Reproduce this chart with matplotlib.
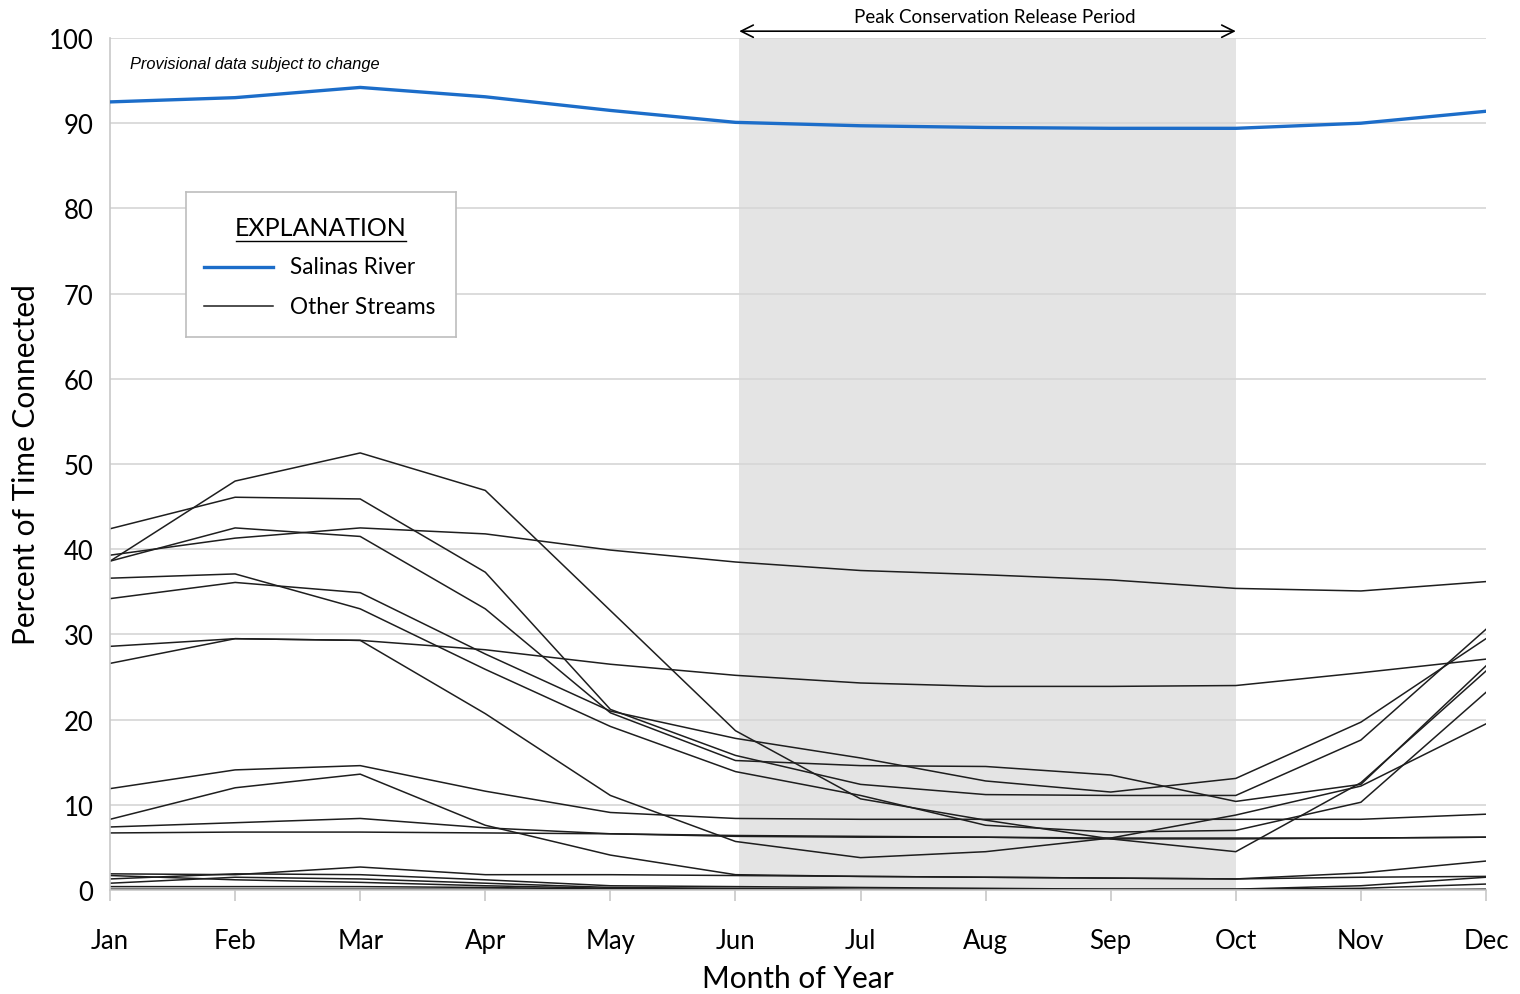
import matplotlib

matplotlib.use('Agg')
import matplotlib.pyplot as plt

MONTHS = ['Jan', 'Feb', 'Mar', 'Apr', 'May', 'Jun',
          'Jul', 'Aug', 'Sep', 'Oct', 'Nov', 'Dec']

# percent of time connected
SALINAS = [92.5, 93.0, 94.2, 93.1, 91.5, 90.1, 89.7, 89.5, 89.4, 89.4, 90.0, 91.4]

OTHER_STREAMS = [
    [38.6, 48.0, 51.3, 46.9, 32.8, 18.7, 10.7, 8.2, 6.0, 4.5, 12.6, 25.7],
    [42.4, 46.1, 45.9, 37.3, 21.2, 15.8, 12.4, 11.2, 11.1, 11.1, 17.6, 30.6],
    [38.6, 42.5, 41.5, 33.0, 20.8, 15.2, 14.6, 14.5, 13.5, 10.4, 12.4, 26.3],
    [39.3, 41.3, 42.5, 41.8, 39.9, 38.5, 37.5, 37.0, 36.4, 35.4, 35.1, 36.2],
    [36.6, 37.1, 33.0, 25.9, 19.2, 13.9, 11.1, 7.6, 6.8, 7.0, 10.3, 23.2],
    [34.2, 36.1, 34.9, 27.7, 21.0, 17.8, 15.5, 12.8, 11.5, 13.1, 19.7, 29.5],
    [28.6, 29.5, 29.3, 28.2, 26.5, 25.2, 24.3, 23.9, 23.9, 24.0, 25.5, 27.1],
    [26.6, 29.5, 29.3, 20.7, 11.1, 5.7, 3.8, 4.5, 6.1, 8.8, 12.2, 19.5],
    [11.9, 14.1, 14.6, 11.6, 9.1, 8.4, 8.3, 8.3, 8.3, 8.3, 8.3, 8.9],
    [8.3, 12.0, 13.6, 7.6, 4.1, 1.8, 1.6, 1.5, 1.4, 1.3, 2.0, 3.4],
    [7.4, 7.9, 8.4, 7.3, 6.6, 6.4, 6.3, 6.2, 6.1, 6.1, 6.1, 6.2],
    [6.7, 6.8, 6.8, 6.7, 6.6, 6.3, 6.2, 6.2, 6.0, 6.0, 6.1, 6.2],
    [1.9, 1.8, 2.7, 1.8, 1.8, 1.7, 1.6, 1.5, 1.4, 1.3, 1.5, 1.6],
    [1.3, 1.9, 1.8, 1.2, 0.5, 0.4, 0.3, 0.2, 0.1, 0.1, 0.5, 1.5],
    [0.8, 1.5, 1.3, 0.8, 0.3, 0.2, 0.1, 0.1, 0.1, 0.1, 0.2, 0.7],
    [1.7, 1.2, 0.9, 0.5, 0.2, 0.1, 0.0, 0.0, 0.0, 0.0, 0.0, 0.1],
    [0.4, 0.4, 0.4, 0.3, 0.1, 0.0, 0.0, 0.0, 0.0, 0.0, 0.0, 0.0],
    [0.1, 0.1, 0.1, 0.1, 0.1, 0.0, 0.0, 0.0, 0.0, 0.0, 0.0, 0.0],
]

PEAK_START, PEAK_END = 'Jun', 'Oct'
BLUE = '#1c6dc9'
FONT = 'Lato'

fig = plt.figure(figsize=(15.2, 9.95), dpi=100)
ax = fig.add_axes([0.0724, 0.1045, 0.9052, 0.8563])

x = list(range(len(MONTHS)))
x0, x1 = MONTHS.index(PEAK_START) + 0.03, MONTHS.index(PEAK_END)
ax.axvspan(x0, x1, color='#e4e4e4', lw=0, zorder=0.2)

for vals in OTHER_STREAMS:
    ax.plot(x, vals, color='#1e1e1e', lw=1.1, zorder=2)
ax.plot(x, SALINAS, color=BLUE, lw=2.4, zorder=3)

ax.set_xlim(0, len(MONTHS) - 1)
ax.set_ylim(0, 100)
ax.set_yticks(range(0, 101, 10))
ax.set_xticks(x)
ax.set_xticklabels(MONTHS)
ax.grid(axis='y', color='#d6d6d6', lw=1.2)
ax.set_axisbelow(True)
for s in ['top', 'right']:
    ax.spines[s].set_visible(False)
for s in ['left', 'bottom']:
    ax.spines[s].set_color('#c8c8c8')
    ax.spines[s].set_linewidth(1.2)
ax.tick_params(axis='y', length=0, pad=12, labelsize=18.5, labelfontfamily=FONT)
ax.tick_params(axis='x', length=8, width=1.2, color='#c8c8c8', pad=19,
               labelsize=18.5, labelfontfamily=FONT)

ax.set_xlabel('Month of Year', fontsize=21.5, family=FONT, labelpad=8)
ax.set_ylabel('Percent of Time Connected', fontsize=21.5, family=FONT, labelpad=6)

ax.text(0.16, 97.0, 'Provisional data subject to change', style='italic',
        fontsize=11.8, family='Liberation Sans', va='center')

# peak conservation release arrow above the plot
ax.annotate('', xy=(x0, 100.8), xytext=(x1, 100.8), xycoords='data',
            arrowprops=dict(arrowstyle='<->', color='black', lw=1.2,
                            mutation_scale=22, shrinkA=0, shrinkB=0),
            annotation_clip=False)
ax.text((x0 + x1) / 2 + 0.06, 102.5, 'Peak Conservation Release Period',
        ha='center', va='center', fontsize=13.5, family=FONT)

# explanation box
lg_ax = fig.add_axes([186 / 1520, 1 - 338 / 995, 270 / 1520, 145 / 995])
lg_ax.set_xlim(0, 270)
lg_ax.set_ylim(145, 0)
lg_ax.set_xticks([])
lg_ax.set_yticks([])
for s in lg_ax.spines.values():
    s.set_color('#bdbdbd')
    s.set_linewidth(1.2)
lg_ax.text(135, 35, 'EXPLANATION', ha='center', va='center', fontsize=18,
           family=FONT)
lg_ax.plot([50, 220], [49, 49], color='black', lw=1.0)
lg_ax.plot([18, 87], [75, 75], color=BLUE, lw=2.4)
lg_ax.text(104, 75, 'Salinas River', va='center', fontsize=16.3, family=FONT)
lg_ax.plot([18, 87], [114, 114], color='#1e1e1e', lw=1.1)
lg_ax.text(104, 114, 'Other Streams', va='center', fontsize=16.3, family=FONT)

fig.savefig('out.png', dpi=100)
